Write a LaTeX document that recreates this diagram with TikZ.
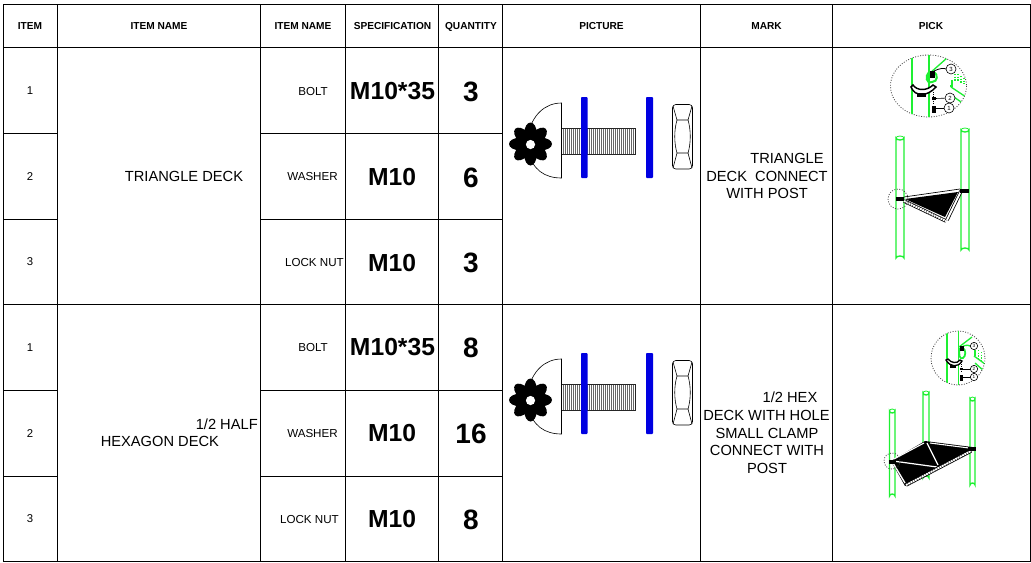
\documentclass[tikz,border=0pt]{standalone}
\usepackage{fontspec}
\setmainfont{Liberation Sans}
\definecolor{postgreen}{RGB}{30,240,50}
\definecolor{washerblue}{RGB}{0,0,225}
\newcommand{\fsz}[1]{\fontsize{#1}{#1}\selectfont}
\tikzset{
  grid line/.style={line width=0.75pt,black},
  head/.style={font=\fsz{7.6}\bfseries,inner sep=0pt,anchor=center,text height=5.5pt,text depth=0pt},
  idx/.style={font=\fsz{8.5},inner sep=0pt,anchor=center},
  sub/.style={font=\fsz{8.7},inner sep=0pt,anchor=center},
  spec/.style={font=\fsz{18.5}\bfseries,inner sep=0pt,anchor=center},
  qty/.style={font=\fsz{21}\bfseries,inner sep=0pt,anchor=center},
  body/.style={font=\fsz{11},inner sep=0pt,align=center,anchor=center},
  post/.style={draw=postgreen,line width=1pt,fill=white},
  thin part/.style={draw=black,line width=0.45pt},
  thin green/.style={draw=postgreen,line width=1pt},
  dotted ring/.style={draw=black!75,line width=0.6pt,dash pattern=on 0.7pt off 1.2pt},
  callout/.style={draw=black,line width=0.45pt,fill=white,circle,minimum size=7.5pt,inner sep=0pt,font=\fsz{4.5}},
}
\newcommand{\postat}[4]{\draw[post] (#1,#3) -- (#1,#4) arc[start angle=180,end angle=360,x radius={(#2-#1)/2},y radius=2] -- (#2,#3) arc[start angle=0,end angle=180,x radius={(#2-#1)/2},y radius=2] -- cycle;
 \draw[postgreen,line width=0.6pt] (#1,#3) arc[start angle=180,end angle=360,x radius={(#2-#1)/2},y radius=2];}
\newcommand{\fastener}[1]{%
\begin{scope}[yshift=#1]
  \draw[thin part,fill=white] (561.5,103) .. controls (545,103) and (532,115) .. (528,135) -- (528,150) .. controls (532,170) and (545,178) .. (561.5,178) -- cycle;
  \fill[white] (561.5,128) rectangle (635,154.5);
  \foreach \tx in {563,565,...,633} {\draw[black!60,line width=0.5pt] (\tx,128) -- (\tx,154.5);}
  \draw[black!85,line width=0.6pt] (561.5,128) -- (635,128) -- (635,154.5) -- (561.5,154.5);
  \fill[washerblue,rounded corners=0.6pt] (581,97) rectangle (587.5,178);
  \fill[washerblue,rounded corners=0.6pt] (646,97) rectangle (653,178);
  \foreach \ang in {0,45,...,315} {
    \fill[black,rotate around={\ang:(530.5,144)}] (541,144) ellipse[x radius=11,y radius=6.3];}
  \fill[black] (530.5,144) circle[radius=11];
  \fill[white] (530.5,144.5) circle[radius=4.6];
  \draw[thin part,rounded corners=2.5pt] (672.5,104.5) -- (692.5,104.5) -- (692.5,169) -- (672.5,169) -- cycle;
  \draw[thin part] (673,106) -- (677,120) -- (688,120) -- (692,106);
  \draw[thin part] (673,168) -- (677,153) -- (688,153) -- (692,168);
  \draw[thin part] (677,120) .. controls (674,130) and (674,143) .. (677,153);
  \draw[thin part] (688,120) .. controls (691,130) and (691,143) .. (688,153);
\end{scope}}
\begin{document}
\begin{tikzpicture}[x=0.75pt,y=-0.75pt]
\useasboundingbox (0,0) rectangle (1031,562);
\draw[grid line] (3.5,4.5) rectangle (1030,561);
\draw[grid line] (3.5,47.5) -- (1030,47.5);
\draw[grid line] (3.5,304.5) -- (1030,304.5);
\foreach \lx in {57.5,260.5,345.5,438.5,502.5,700.5,832.5} {\draw[grid line] (\lx,4.5) -- (\lx,561);}
\foreach \ly in {133.5,219.5,390.5,476.5} {
  \draw[grid line] (3.5,\ly) -- (57.5,\ly);
  \draw[grid line] (260.5,\ly) -- (502.5,\ly);}
\node[head] (h1) at (30,26) {ITEM};
\node[head] (h2) at (159,26) {ITEM NAME};
\node[head] (h3) at (303,26) {ITEM NAME};
\node[head] (h4) at (392.5,26) {SPECIFICATION};
\node[head] (h5) at (471,26) {QUANTITY};
\node[head] (h6) at (601.5,26) {PICTURE};
\node[head] (h7) at (766.5,26) {MARK};
\node[head] (h8) at (931,26) {PICK};
\node[idx] (a1) at (30,91) {1};
\node[idx] (a2) at (30,177) {2};
\node[idx] (a3) at (30,262) {3};
\node[idx] (b1) at (30,348) {1};
\node[idx] (b2) at (30,434) {2};
\node[idx] (b3) at (30,519) {3};
\node[sub,anchor=east] (s1) at (328,91) {BOLT};
\node[sub,anchor=east] (s2) at (338,176) {WASHER};
\node[sub,anchor=east] (s3) at (344,262) {LOCK NUT};
\node[sub,anchor=east] (t1) at (328,347) {BOLT};
\node[sub,anchor=east] (t2) at (338,433) {WASHER};
\node[sub,anchor=east] (t3) at (339,519) {LOCK NUT};
\node[spec] (m1) at (392.5,91) {M10*35};
\node[spec] (m2) at (392,177) {M10};
\node[spec] (m3) at (392,263) {M10};
\node[spec] (n1) at (392.5,347) {M10*35};
\node[spec] (n2) at (392,433) {M10};
\node[spec] (n3) at (392,519) {M10};
\node[qty] (q1) at (471,92) {3};
\node[qty] (q2) at (471,178) {6};
\node[qty] (q3) at (471,263) {3};
\node[qty] (r1) at (471,348) {8};
\node[qty] (r2) at (471,434) {16};
\node[qty] (r3) at (471,520) {8};
\node[body] (d1) at (184,176) {TRIANGLE DECK};
\node[body,anchor=east] (d2a) at (258,424) {1/2 HALF};
\node[body,anchor=west] (d2b) at (100.5,441) {HEXAGON DECK};
\node[body] (k1a) at (787,158) {TRIANGLE};
\node[body] (k1b) at (767,176) {DECK\ \ CONNECT};
\node[body] (k1c) at (767,193) {WITH POST};
\node[body] (k2a) at (790,397) {1/2 HEX};
\node[body] (k2b) at (766.5,415) {DECK WITH HOLE};
\node[body] (k2c) at (767,433) {SMALL CLAMP};
\node[body] (k2d) at (767,450) {CONNECT WITH};
\node[body] (k2e) at (767,468) {POST};
\fastener{0pt}
\fastener{-192pt}
% pick 1 detail
\draw[dotted ring] (928.5,86) ellipse[x radius=38,y radius=31];
\begin{scope}
\clip (928.5,86) ellipse[x radius=38,y radius=31];
\draw[thin green] (912,50) -- (912,120);
\draw[thin green] (929,50) -- (929,120);
\draw[thin green] (930,73) -- (947,58);
\draw[thin green] (952,80) -- (952,86) -- (950,86);
\draw[thin green] (951,87) -- (966,97);
\draw[thin green] (951,95) -- (964,104);
\draw[postgreen,line width=0.8pt,dash pattern=on 1pt off 1pt] (955,74) -- (955,82) (958,74) -- (958,82) (961,76) -- (961,84) (964,78) -- (964,84);
\end{scope}
\draw[thin green,line width=1.5pt] (929,72) .. controls (925,76) and (926,84) .. (932,82) .. controls (938,82) and (938,74) .. (934,72);
\fill[black] (930,71) rectangle (935,78);
\draw[black,line width=0.6pt] (934,71) .. controls (940,68) and (944,68) .. (946,69);
\draw[black,line width=1.1pt,fill=white] (911,87) .. controls (915,97) and (927,97) .. (936,87) -- (933,85) .. controls (927,91) and (917,91) .. (913,85) -- cycle;
\fill[black] (917,93) rectangle (926,97);
\draw[black,line width=0.6pt,dash pattern=on 0.8pt off 0.8pt] (933.5,92) -- (933.5,104);
\fill[black] (932,97) rectangle (935.5,100);
\fill[black] (931.5,106) rectangle (935.5,113);
\node[callout] (c13) at (951,69) {3};
\node[callout] (c12) at (950,98) {2};
\node[callout] (c11) at (949,108) {1};
\coordinate (p12) at (935,98.5);
\coordinate (p11) at (935,108);
\draw[thin part] (p12) -- (c12);
\draw[thin part] (p11) -- (c11);
% pick 1 assembly
\postat{896}{904}{138}{258}
\postat{961}{969}{130}{250}
\fill[black] (905,199) -- (958,192) -- (945,217) -- cycle;
\draw[black,line width=0.5pt] (904,197) -- (960,189);
\draw[black,line width=2.6pt] (904,201) -- (946,221);
\draw[white,line width=1.5pt,dash pattern=on 1.4pt off 0.5pt] (904,201) -- (946,221);
\draw[black,line width=2.6pt] (947,220) -- (961,191);
\draw[white,line width=1.4pt] (947,220) -- (961,191);
\fill[black] (896,197) rectangle (904,201);
\fill[black] (960,188.5) rectangle (969,193);
\draw[dotted ring] (898,199) circle[radius=10];
% pick 2 detail
\draw[dotted ring] (958,358) circle[radius=27];
\begin{scope}
\clip (958,358) circle[radius=27];
\draw[thin green] (947,330) -- (947,390);
\draw[thin green] (958.5,330) -- (958.5,390);
\draw[thin green] (959,347) -- (972,337);
\draw[thin green] (975,350) -- (975,356);
\draw[thin green] (974,356) -- (985,364);
\draw[thin green] (975,363) -- (984,371);
\draw[postgreen,line width=0.7pt,dash pattern=on 1pt off 1pt] (978,350) -- (978,360) (981,352) -- (981,362);
\end{scope}
\draw[thin green,line width=1.3pt] (960,348) .. controls (958,355) and (960,360) .. (963,358) .. controls (966,356) and (966,350) .. (963,348);
\draw[thin green] (962,347) .. controls (966,344) and (970,345) .. (973,348);
\fill[black] (960,346) rectangle (964,351);
\draw[black,line width=1pt,fill=white] (946,360) .. controls (950,367) and (958,368) .. (962,361) -- (960,360) .. controls (957,364) and (951,363) .. (948,359) -- cycle;
\fill[black] (950,365) rectangle (956,368);
\draw[black,line width=0.5pt,dash pattern=on 0.8pt off 0.8pt] (961.5,362) -- (961.5,371);
\fill[black] (960,368) rectangle (963,370);
\fill[black] (960,375) rectangle (963,381);
\node[callout,minimum size=5.5pt,font=\fsz{3.5}] (c23) at (974,346) {3};
\node[callout,minimum size=5.5pt,font=\fsz{3.5}] (c22) at (974,369) {2};
\node[callout,minimum size=5.5pt,font=\fsz{3.5}] (c21) at (974,377) {1};
\coordinate (p22) at (963,369);
\coordinate (p21) at (963,377);
\draw[thin part] (p22) -- (c22);
\draw[thin part] (p21) -- (c21);
% pick 2 assembly
\postat{923}{929}{393}{478}
\postat{970}{975}{399}{485}
\postat{889.5}{895}{411}{496}
\fill[black] (891,461) -- (925,441) -- (972,447) -- (972,451) -- (905,486) -- cycle;
\draw[white,line width=1pt] (893,463) -- (905,483);
\draw[white,line width=0.9pt] (893,461) -- (937,467);
\draw[white,line width=0.9pt] (927,443) -- (938,465);
\draw[white,line width=0.8pt] (894,459) -- (924,443);
\draw[white,line width=0.8pt] (930,443) -- (969,448);
\draw[black,line width=2.6pt] (906,485) -- (971,451);
\draw[white,line width=1.4pt,dash pattern=on 1.4pt off 0.5pt] (906,485) -- (971,451);
\fill[black] (968,447) rectangle (976,451);
\fill[black] (889,460) rectangle (896,464);
\draw[dotted ring] (892,461) circle[radius=8];
\end{tikzpicture}
\end{document}
